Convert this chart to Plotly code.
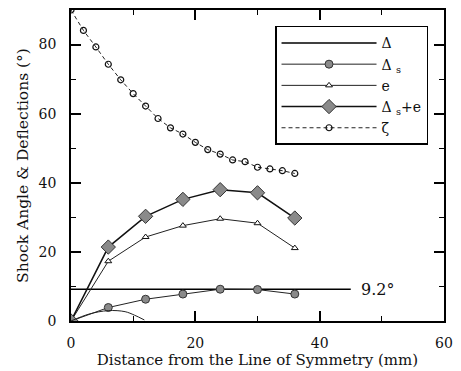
import plotly.graph_objects as go

# ---- data ----
x_pts = [0, 6, 12, 18, 24, 30, 36]
delta_s = [0, 3.9, 6.3, 7.8, 9.2, 9.1, 7.8]
e_vals = [0, 17.3, 24.3, 27.6, 29.6, 28.3, 21.1]
ds_plus_e = [0, 21.4, 30.3, 35.2, 38.0, 37.1, 29.8]

x_zeta = [0, 2, 4, 6, 8, 10, 12, 14, 16, 18, 20, 22, 24, 26, 28, 30, 32, 34, 36]
zeta = [90, 84.1, 79.3, 74.3, 69.8, 65.8, 62.2, 58.6, 55.9, 54.1, 51.7, 49.6, 48.3,
        46.6, 46.1, 44.5, 44.0, 43.5, 42.7]

x_delta = [0, 45]
delta = [9.2, 9.2]

x_arc = [0, 2.9, 6.0, 8.7, 10.2, 11.8]
arc = [0, 2.0, 3.0, 2.7, 1.7, 0.3]

x_ticks = [0, 20, 40, 60]
y_ticks = [0, 20, 40, 60, 80]

SERIF = "DejaVu Serif"

fig = go.Figure()

fig.add_trace(go.Scatter(x=x_delta, y=delta, mode="lines", name="Δ",
                         line=dict(color="black", width=1.6)))
fig.add_trace(go.Scatter(x=x_pts, y=delta_s, mode="lines+markers", name="Δ <sub>s</sub>",
                         line=dict(color="#222", width=1),
                         marker=dict(symbol="circle", size=8, color="#8a8a8a",
                                     line=dict(color="#333", width=1))))
fig.add_trace(go.Scatter(x=x_pts, y=e_vals, mode="lines+markers", name="e",
                         line=dict(color="#222", width=1),
                         marker=dict(symbol="triangle-up", size=6, color="white",
                                     line=dict(color="#111", width=1))))
fig.add_trace(go.Scatter(x=x_pts, y=ds_plus_e, mode="lines+markers", name="Δ <sub>s</sub>+e",
                         line=dict(color="#111", width=1.5),
                         marker=dict(symbol="diamond", size=11, color="#8a8a8a",
                                     line=dict(color="#333", width=1))))
fig.add_trace(go.Scatter(x=x_zeta, y=zeta, mode="lines+markers", name="ζ",
                         line=dict(color="#222", width=1, dash="4px,3px"),
                         marker=dict(symbol="circle-open", size=6, color="#111",
                                     line=dict(width=1.2))))
fig.add_trace(go.Scatter(x=x_arc, y=arc, mode="lines", showlegend=False,
                         line=dict(color="#222", width=1, shape="spline")))

fig.add_annotation(x=45, y=9.2, text="9.2°", showarrow=False, xanchor="left",
                   xshift=8, font=dict(family=SERIF, size=16, color="#111"))

axis_common = dict(showgrid=False, zeroline=False, showline=True, linecolor="black",
                   linewidth=1.8, mirror="allticks", ticks="inside", ticklen=10,
                   tickwidth=1.5, tickcolor="black",
                   tickfont=dict(family=SERIF, size=14, color="#111"),
                   minor=dict(ticks="inside", ticklen=5, tickwidth=1.2, tickcolor="black",
                              dtick=10))

fig.update_layout(
    width=461, height=371,
    margin=dict(l=71, r=8, t=9, b=50),
    paper_bgcolor="white", plot_bgcolor="white",
    font=dict(family=SERIF, color="#111"),
    xaxis=dict(range=[0, 60], tickvals=x_ticks, ticklabelstandoff=8, **axis_common,
               title=dict(text="Distance from the Line of Symmetry (mm)",
                          font=dict(family=SERIF, size=15), standoff=0)),
    yaxis=dict(range=[0, 90], tickvals=y_ticks, ticklabelstandoff=10, **axis_common,
               title=dict(text="Shock Angle & Deflections (°)",
                          font=dict(family=SERIF, size=15.5), standoff=6)),
    legend=dict(x=0.547, y=0.949, xanchor="left", yanchor="top",
                bgcolor="white", bordercolor="black", borderwidth=1.5,
                font=dict(family=SERIF, size=14), itemwidth=95,
                tracegroupgap=0),
)

fig.write_html("out.html")
